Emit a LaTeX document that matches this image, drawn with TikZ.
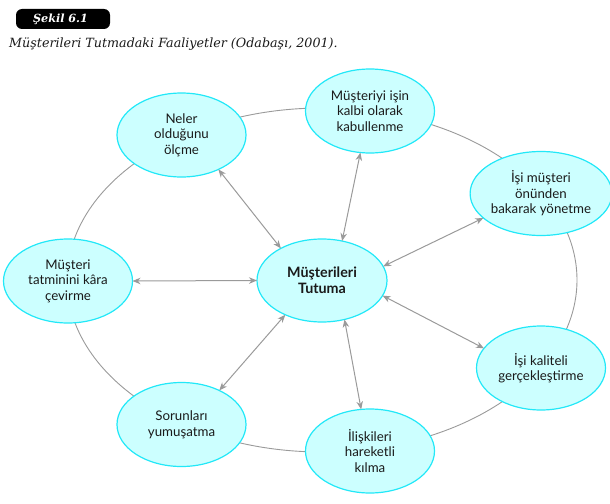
\documentclass[tikz,border=0pt]{standalone}
\usepackage{fontspec}
\setmainfont{DejaVu Serif}
\newfontfamily\diagfont{Lato}
\usetikzlibrary{arrows.meta,shapes.geometric}
\definecolor{bubblefill}{HTML}{CCFFFF}
\definecolor{bubbleline}{HTML}{22E8F8}
\definecolor{linkgray}{HTML}{9A9A9A}
\definecolor{inktext}{HTML}{1A1A1A}
\tikzset{
  bubble/.style={ellipse, draw=bubbleline, fill=bubblefill, line width=1.2pt,
    minimum width=129pt, minimum height=84pt, inner sep=0pt, outer sep=0pt,
    align=center, text=inktext, font=\diagfont\fontsize{13.3}{15.6}\selectfont},
  hub/.style={bubble, minimum width=130pt, minimum height=83pt,
    font=\diagfont\bfseries\fontsize{14.3}{15.6}\selectfont},
  ring/.style={draw=linkgray, line width=0.9pt},
  link/.style={draw=linkgray, line width=1pt,
    {Stealth[length=8pt,width=6.5pt,inset=2.5pt]}-{Stealth[length=8pt,width=6.5pt,inset=2.5pt]}},
}
\begin{document}
\begin{tikzpicture}[x=1pt,y=-1pt]
\useasboundingbox (0,0) rectangle (610,503);
% header
\node[fill=black, rounded corners=6pt, minimum width=94pt, minimum height=20pt, inner sep=0pt]
  (tag) at (63,19) {};
\node[text=white, font=\bfseries\itshape\fontsize{11.2}{12}\selectfont, inner sep=0pt] (tagtext) at (60.5,19.5) {Şekil 6.1};
\node[anchor=west, inner sep=0pt, font=\itshape\fontsize{12.7}{14}\selectfont, text=inktext] (caption) at (9,44)
  {Müşterileri Tutmadaki Faaliyetler (Odabaşı, 2001).};
% ring behind the bubbles
\draw[ring] (322,280) ellipse [x radius=255pt, y radius=172pt];
% bubbles
\node[hub] (c) at (322,280.5) {Müşterileri\\Tutuma};
\node[bubble] (n1) at (181.5,135) {Neler\\olduğunu\\ölçme};
\node[bubble] (n2) at (370,111) {Müşteriyi işin\\kalbi olarak\\kabullenme};
\node[bubble] (n3) at (541,193.5) {İşi müşteri\\önünden\\bakarak yönetme};
\node[bubble] (n4) at (541,368) {İşi kaliteli\\gerçekleştirme};
\node[bubble] (n5) at (370,451) {İlişkileri\\hareketli\\kılma};
\node[bubble] (n6) at (181.5,424.5) {Sorunları\\yumuşatma};
\node[bubble] (n7) at (68,281) {Müşteri\\tatminini kâra\\çevirme};
% links
\draw[link] (n1.-43) -- (c.142);
\draw[link] (n2.257) -- (c.63);
\draw[link] (n3.203.6) -- (c.13.8);
\draw[link] (n4.161.3) -- (c.-14.9);
\draw[link] (n5.102.8) -- (c.-60.1);
\draw[link] (n6.42.2) -- (c.223.1);
\draw[link] (n7.0) -- (c.180);
\end{tikzpicture}
\end{document}
